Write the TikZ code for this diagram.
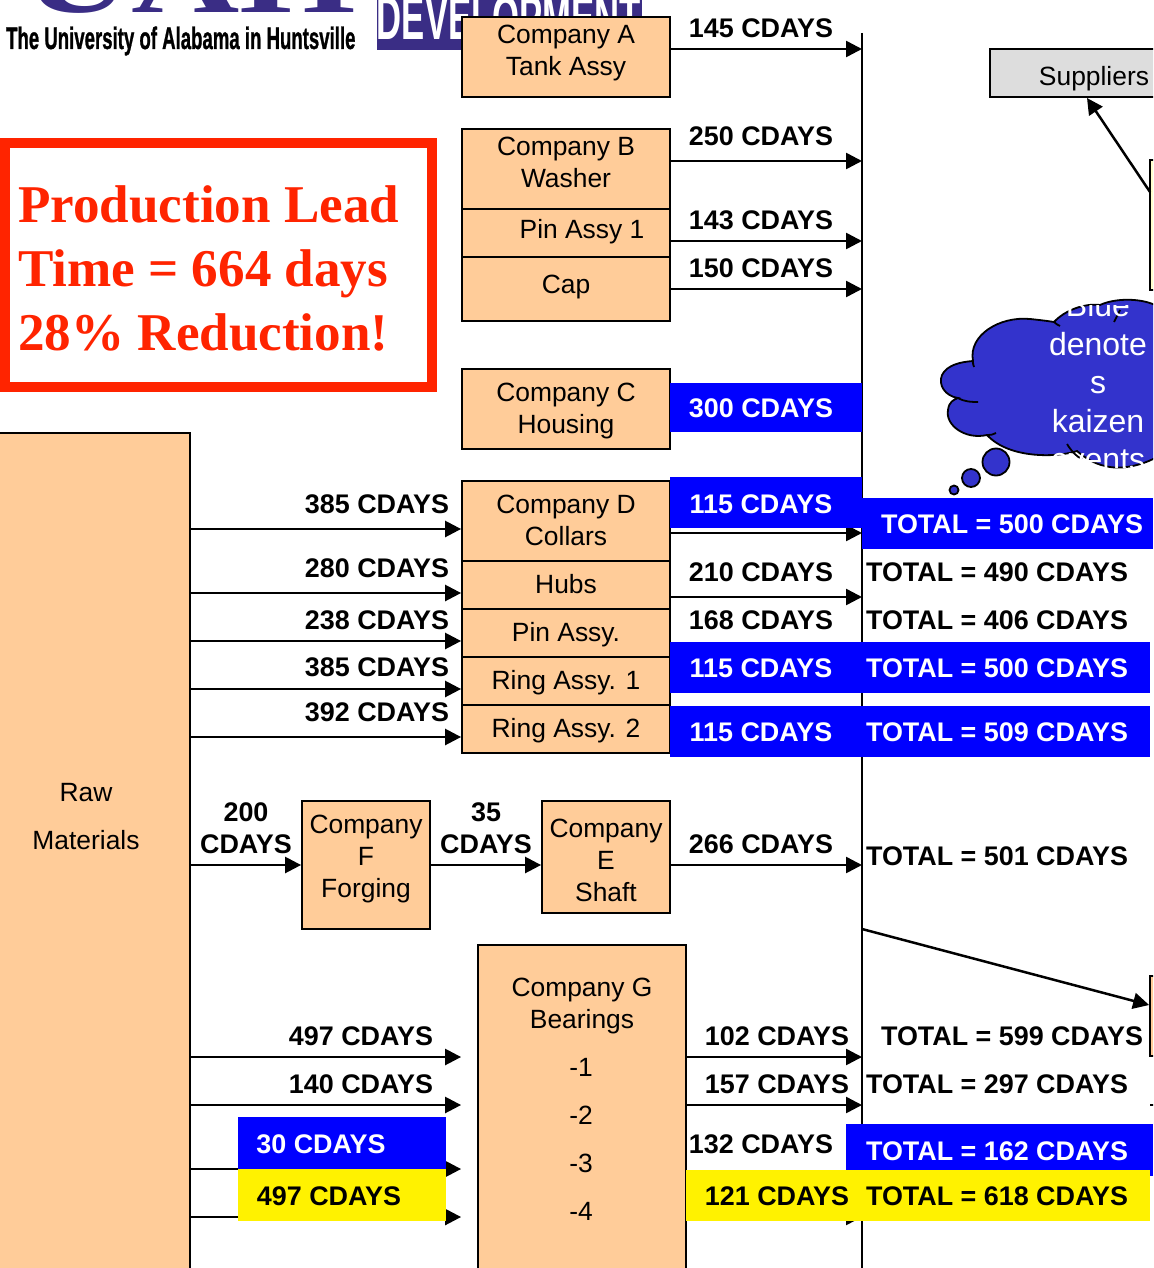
\documentclass[tikz,border=0pt]{standalone}
\usepackage{fontspec}
\setmainfont{Liberation Sans}
\newfontfamily\serifbold[BoldFont={Liberation Serif Bold}]{Liberation Serif}
\newfontfamily\logofont[FakeBold=1.2]{Liberation Sans Bold}
\usetikzlibrary{arrows.meta}
\definecolor{peach}{HTML}{FFCC99}
\definecolor{barblue}{HTML}{0000FF}
\definecolor{cloudblue}{HTML}{3333CC}
\definecolor{uahpurple}{HTML}{3A2D85}
\definecolor{redframe}{HTML}{FF2400}
\definecolor{palegrey}{HTML}{DDDDDD}
\definecolor{paleyellow}{HTML}{FFFFCC}
\tikzset{
  box/.style={draw=black,line width=1.8pt,fill=peach,inner sep=0pt},
  bar/.style={fill=barblue,draw=none,inner sep=0pt},
  ybar/.style={fill=yellow,draw=none,inner sep=0pt},
  reg/.style={font=\fontsize{26.4}{32}\selectfont,align=center,inner sep=0pt,text=black},
  lab/.style={font=\fontsize{26.9}{32}\selectfont\bfseries,align=center,inner sep=0pt,text=black},
  wlab/.style={lab,text=white},
  flow/.style={line width=2.5pt,-{Triangle[length=16pt,width=16pt]}},
}
% rectangular node from two corners given in pixels
\newcommand{\rnode}[6]{\path (#3,#4) -- (#5,#6) node[midway,#2,minimum width={#5-#3},minimum height={#6-#4},sloped=false] (#1) {};}
\begin{document}
\begin{tikzpicture}[x=1pt,y=-1pt]
\useasboundingbox (0,0) rectangle (1153,1268);
\clip (0,0) rectangle (1153,1268);
\fill[white] (0,0) rectangle (1153,1268);

% logo fragments
\node (uah) [anchor=base,inner sep=0pt,text=uahpurple,font=\fontsize{100}{100}\serifbold\bfseries,xscale=1.5] at (190,12.5) {UAH};
\node (uni) [anchor=base west,inner sep=0pt,text=black,font=\fontsize{31}{32}\logofont,xscale=0.6] at (6,49) {The University of Alabama in Huntsville};
\fill[uahpurple] (377,-1) rectangle (642,50);
\node (dev) [anchor=base,inner sep=0pt,text=white,font=\fontsize{62}{62}\selectfont\bfseries,xscale=0.56] at (509,40) {DEVELOPMENT};

% time line
\coordinate (lineT) at (862,33);
\coordinate (lineB) at (862,1270);
\draw[line width=2.4pt] (lineT) -- (lineB);

% boxes
\rnode{raw}{box}{-5}{433}{190}{1300}
\rnode{compA}{box}{462}{17}{670}{97}
\rnode{compB}{box}{462}{129}{670}{209}
\rnode{pin1}{box}{462}{209}{670}{257}
\rnode{cap}{box}{462}{257}{670}{321}
\rnode{compC}{box}{462}{369}{670}{449}
\rnode{compD}{box}{462}{481}{670}{561}
\rnode{hubs}{box}{462}{561}{670}{609}
\rnode{pinA}{box}{462}{609}{670}{657}
\rnode{ring1}{box}{462}{657}{670}{705}
\rnode{ring2}{box}{462}{705}{670}{753}
\rnode{compF}{box}{302}{801}{430}{929}
\rnode{compE}{box}{542}{801}{670}{913}
\rnode{compG}{box}{478}{945}{686}{1300}
\rnode{supp}{draw=black,line width=1.8pt,fill=palegrey,inner sep=0pt}{990}{49}{1170}{97}
\rnode{yellowbox}{draw=black,line width=1.8pt,fill=paleyellow,inner sep=0pt}{1150}{160}{1170}{290}
\rnode{orangebox}{box}{1150}{976}{1170}{1056}

% connectors
\foreach \y/\a in {49/compA,161/compB,241/pin1,289/cap,533/compD,597/hubs,865/compE}
  \draw[flow] (\a.east |- 0,\y) -- (lineT |- 0,\y);
\foreach \y/\a in {529/compD,593/hubs,641/pinA,689/ring1,737/ring2}
  \draw[flow] (raw.east |- 0,\y) -- (\a.west |- 0,\y);
\draw[flow] (raw.east |- 0,865) -- (compF.west |- 0,865);
\draw[flow] (compF.east |- 0,865) -- (compE.west |- 0,865);
\foreach \y in {1057,1105,1169,1217}
  \draw[flow] (raw.east |- 0,\y) -- (ring2.west |- 0,\y);
\foreach \y in {1057,1105,1217}
  \draw[flow] (compG.east |- 0,\y) -- (lineT |- 0,\y);
\coordinate (yTail) at (1150,192);
\coordinate (suppTip) at (1087,98);
\draw[flow] (yTail) -- (suppTip);
\coordinate (lineOut) at (862,929);
\draw[flow] (lineOut) -- (orangebox.west |- 0,1005);
\coordinate (tickA) at (1150,1105);
\coordinate (tickB) at (1154,1105);
\draw[line width=2pt] (tickA) -- (tickB);

% red frame
\node (redbox) [draw=redframe,line width=10pt,fill=white,minimum width=427pt,minimum height=244pt,inner sep=0pt] at (218.5,265) {};
\node (leadtext) [anchor=west,inner sep=0pt,align=left,text=redframe,font=\fontsize{53.1}{64}\serifbold\bfseries] at (18,268) {Production Lead\\Time = 664 days\\28\% Reduction!};

% cloud
\begin{scope}
\path[fill=cloudblue,draw=black,line width=1.8pt]
  (1155,458) .. controls (1140,466) and (1120,470) .. (1105,466)
  .. controls (1095,464) and (1085,458) .. (1077,451)
  .. controls (1060,457) and (1010,460) .. (987,435)
  .. controls (965,440) and (945,425) .. (948,410)
  .. controls (949,402) and (953,400) .. (958,398)
  .. controls (945,396) and (938,385) .. (942,375)
  .. controls (947,365) and (960,362) .. (973,361)
  .. controls (968,335) and (1000,316) .. (1030,319)
  .. controls (1040,320) and (1048,321) .. (1054,322)
  .. controls (1065,310) and (1085,303) .. (1100,305)
  .. controls (1115,298) and (1140,298) .. (1155,305) -- cycle;
\draw[line width=1.8pt] (958,398) .. controls (965,402) and (972,402) .. (978,402);
\draw[line width=1.8pt] (973,361) .. controls (973,363) and (973,365) .. (974,367);
\draw[line width=1.8pt] (987,435) .. controls (990,435) and (993,435) .. (996,433);
\draw[line width=1.8pt] (1067,444) .. controls (1072,452) and (1077,457) .. (1082,459);
\draw[line width=1.8pt] (1054,322) .. controls (1056,324) and (1058,325) .. (1060,326);
\draw[line width=1.8pt] (1114,322) .. controls (1116,318) and (1118,314) .. (1120,310);
\end{scope}
\node (b1) [circle,draw=black,line width=1.8pt,fill=cloudblue,minimum size=27pt,inner sep=0pt] at (996,462) {};
\node (b2) [circle,draw=black,line width=1.8pt,fill=cloudblue,minimum size=18pt,inner sep=0pt] at (971,478) {};
\node (b3) [circle,draw=black,line width=1.8pt,fill=cloudblue,minimum size=9pt,inner sep=0pt] at (954,490) {};
\begin{scope}
\clip (1040,305) rectangle (1153,467);
\node (cloudtext) [anchor=base,inner sep=0pt,align=center,text=white,font=\fontsize{32}{38.3}\selectfont] at (1098,316) {Blue};
\node (cloudtext2) [anchor=base,inner sep=0pt,align=center,text=white,font=\fontsize{32}{38.3}\selectfont] at (1098,355) {denote};
\node (cloudtext3) [anchor=base,inner sep=0pt,align=center,text=white,font=\fontsize{32}{38.3}\selectfont] at (1098,393) {s};
\node (cloudtext4) [anchor=base,inner sep=0pt,align=center,text=white,font=\fontsize{32}{38.3}\selectfont] at (1098,432) {kaizen};
\node (cloudtext5) [anchor=base,inner sep=0pt,align=center,text=white,font=\fontsize{32}{38.3}\selectfont] at (1098,470) {events};
\end{scope}

% highlight bars
\rnode{b300}{bar}{670}{383}{862}{432}
\rnode{b115a}{bar}{670}{477}{862}{528}
\rnode{bt500a}{bar}{862}{498}{1153}{549}
\rnode{b115b}{bar}{670}{642}{1150}{693}
\rnode{b115c}{bar}{670}{706}{1150}{757}
\rnode{b162}{bar}{846}{1124}{1153}{1176}
\rnode{y618}{ybar}{686}{1170}{1150}{1221}
\rnode{b30}{bar}{238}{1117}{446}{1169}
\rnode{y497}{ybar}{238}{1169}{446}{1221}

% box text
\node (tA) [reg] at (566,53) {Company A\\Tank Assy};
\node (tB) [reg] at (566,162) {Company B\\Washer};
\node (tP) [reg] at (582,232) {Pin Assy 1};
\node (tC) [reg] at (566,287) {Cap};
\node (tCc) [reg] at (566,411) {Company C\\Housing};
\node (tD) [reg] at (566,520) {Company D\\Collars};
\node (tH) [reg] at (566,584) {Hubs};
\node (tPa) [reg] at (566,635) {Pin Assy.};
\node (tR1) [reg] at (566,683) {Ring Assy. 1};
\node (tR2) [reg] at (566,731) {Ring Assy. 2};
\node (tF) [reg] at (366,859) {Company\\F\\Forging};
\node (tE) [reg] at (606,860) {Company\\E\\Shaft};
\node (tG) [reg] at (582,1006) {Company G\\Bearings};
\node (tG1) [reg] at (581,1067) {-1};
\node (tG2) [reg] at (581,1115) {-2};
\node (tG3) [reg] at (581,1163) {-3};
\node (tG4) [reg] at (581,1211) {-4};
\node (tRaw) [reg] at (86,793) {Raw};
\node (tMat) [reg] at (86,840) {Materials};
\node (tS) [reg] at (1094,79) {Suppliers};

% bold labels
\foreach \n/\x/\y/\t in {
 l1/761/28/145 CDAYS, l2/761/136/250 CDAYS, l3/761/220/143 CDAYS, l4/761/268/150 CDAYS,
 l5/761/572/210 CDAYS, l6/761/620/168 CDAYS, l7/761/844/266 CDAYS,
 l8/777/1036/102 CDAYS, l9/777/1084/157 CDAYS, l10/761/1144/132 CDAYS, l11/777/1196/121 CDAYS,
 l12/377/504/385 CDAYS, l13/377/568/280 CDAYS, l14/377/620/238 CDAYS, l15/377/667/385 CDAYS, l16/377/712/392 CDAYS,
 l17/361/1036/497 CDAYS, l18/361/1084/140 CDAYS, l19/329/1196/497 CDAYS,
 m1/997/572/TOTAL = 490 CDAYS, m2/997/620/TOTAL = 406 CDAYS, m3/997/856/TOTAL = 501 CDAYS,
 m4/1012/1036/TOTAL = 599 CDAYS, m5/997/1084/TOTAL = 297 CDAYS, m6/997/1196/TOTAL = 618 CDAYS}
  \node (\n) [lab] at (\x,\y) {\t};
\foreach \n/\x/\y/\t in {
 w1/761/408/300 CDAYS, w2/761/504/115 CDAYS, w3/1012/524/TOTAL = 500 CDAYS,
 w4/761/668/115 CDAYS, w5/997/668/TOTAL = 500 CDAYS, w6/761/732/115 CDAYS, w7/997/732/TOTAL = 509 CDAYS,
 w8/997/1151/TOTAL = 162 CDAYS, w9/321/1144/30 CDAYS}
  \node (\n) [wlab] at (\x,\y) {\t};
\node (c200) [lab] at (246,828) {200\\CDAYS};
\node (c35) [lab] at (486,828) {35\\CDAYS};
\end{tikzpicture}
\end{document}
